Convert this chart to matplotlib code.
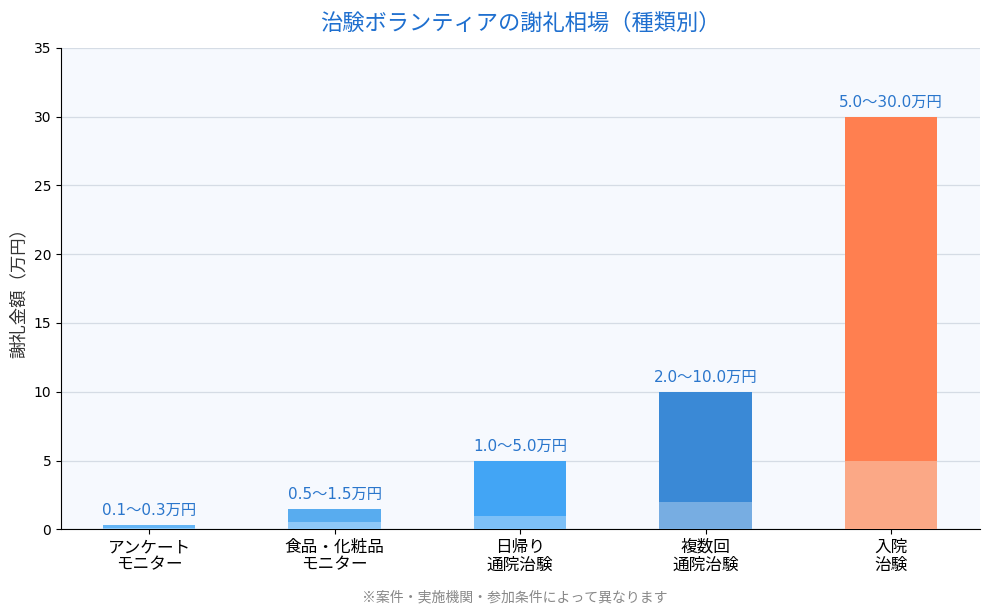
#importing the required libraries
import numpy as np
from matplotlib import pyplot as plt

plt.rcParams['font.family'] = ['DejaVu Sans', 'Noto Sans CJK JP']

# data
categories = ['アンケート\nモニター', '食品・化粧品\nモニター', '日帰り\n通院治験', '複数回\n通院治験', '入院\n治験']
min_values = [0.1, 0.5, 1.0, 2.0, 5.0]
max_values = [0.3, 1.5, 5.0, 10.0, 30.0]
labels = ['0.1〜0.3万円', '0.5〜1.5万円', '1.0〜5.0万円', '2.0〜10.0万円', '5.0〜30.0万円']

top_colors = ['#64B5F6', '#58ACEF', '#42A5F5', '#3A89D6', '#FF7F50']
low_colors = ['#90CAF9', '#8EC8F8', '#7DC0F7', '#77ADE2', '#FBA886']

cjk = ['Noto Sans CJK JP', 'DejaVu Sans']

fig, ax = plt.subplots(figsize=(9.9, 6.14), dpi=100)
fig.subplots_adjust(left=0.0616, right=0.99, top=0.922, bottom=0.138)
ax.set_facecolor('#F6F9FE')

x = np.arange(len(categories))
upper = [hi - lo for lo, hi in zip(min_values, max_values)]
ax.bar(x, min_values, width=0.5, color=low_colors, zorder=3)
ax.bar(x, upper, width=0.5, bottom=min_values, color=top_colors, zorder=3)

for xi, hi, txt in zip(x, max_values, labels):
    ax.text(xi, hi + 0.5, txt, ha='center', va='bottom', fontsize=11, color='#2A76CC')

ax.set_ylim(0, 35)
ax.set_xlim(-0.475, 4.48)
ax.set_yticks(range(0, 36, 5))
ax.set_xticks(x)
ax.set_xticklabels(categories, fontsize=12, linespacing=1.05, family=cjk)
ax.tick_params(axis='y', labelsize=10)
ax.grid(axis='y', color='#D5DCE5', linewidth=0.9, zorder=0)
ax.set_axisbelow(True)
ax.spines['top'].set_visible(False)
ax.spines['right'].set_visible(False)
ax.set_ylabel('謝礼金額（万円）', fontsize=12.5, color='#333333', family=cjk)

ax.set_title('治験ボランティアの謝礼相場（種類別）', fontsize=16, color='#1E6FCF', pad=13, family=cjk)
fig.text(0.52, 0.02, '※案件・実施機関・参加条件によって異なります', ha='center', fontsize=10, color='#888888', family=cjk)

plt.savefig('out.png')
